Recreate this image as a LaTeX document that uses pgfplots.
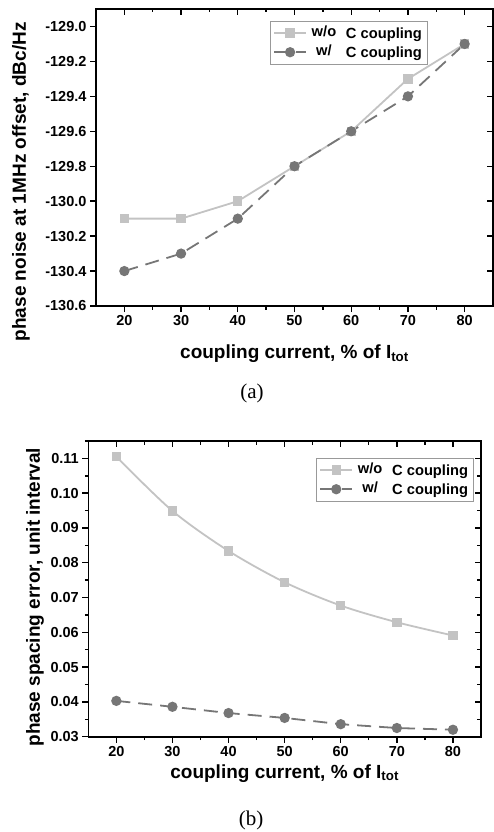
\documentclass[border=0pt]{standalone}
\usepackage{pgfplots}
\pgfplotsset{compat=1.18}
\usepackage{fontspec}
\setmainfont{Liberation Sans}
\newfontfamily\captfont{Liberation Serif}

\definecolor{lightg}{RGB}{195,195,195}
\definecolor{darkg}{RGB}{118,118,118}

\pgfplotsset{
  base/.style={
    scale only axis,
    xmin=15, xmax=85,
    xtick={20,30,...,80},
    minor x tick num=1,
    minor y tick num=1,
    axis line style={line width=1.6pt},
    every tick/.style={line width=1.4pt, black},
    major tick length=6pt,
    minor tick length=3.5pt,
    tick label style={font=\bfseries\fontsize{14.5}{16}\selectfont},
    /pgf/number format/assume math mode=true,
  },
  inner ticks/.style={
    base,
    axis x line*=top,
    axis y line*=right,
    tick align=inside,
    xticklabels={}, yticklabels={},
  },
  wo/.style={color=lightg, line width=1.8pt, mark=square*, mark size=3.8pt,
    mark options={solid, fill=lightg}},
  wc/.style={color=darkg, line width=1.8pt, dash pattern=on 14pt off 8pt,
    mark=*, mark size=4.2pt, mark options={solid, fill=darkg}},
  leg/.style={
    legend cell align=left,
    legend style={draw=gray!80, line width=0.6pt, inner sep=3pt,
      font=\bfseries\fontsize{14.7}{17}\selectfont, row sep=1pt},
    legend image code/.code={
      \draw[mark repeat=2, mark phase=2, ##1]
        plot coordinates {(0pt,0pt) (16pt,0pt) (32pt,0pt)};},
  },
}
\newcommand{\wo}{\makebox[30pt][c]{\raisebox{2pt}{w/o}}\hspace{7pt}C coupling}
\newcommand{\wc}{\makebox[30pt][c]{\raisebox{2pt}{w/}}\hspace{7pt}C coupling}

\begin{document}
\begin{tikzpicture}
\path[use as bounding box] (0pt,0pt) rectangle (493pt,-832pt);

% (a) phase noise
\begin{axis}[
  base, leg,
  at={(96pt,-306pt)}, anchor=south west,
  width=397pt, height=297pt,
  ymin=-130.6, ymax=-128.9,
  ytick={-130.6,-130.4,...,-128.9},
  tick align=outside,
  xtick pos=bottom, ytick pos=left,
  yticklabel style={/pgf/number format/.cd, fixed, fixed zerofill, precision=1},
  xlabel={coupling current, \% of I\textsubscript{tot}},
  ylabel={phase noise at 1MHz offset, dBc/Hz},
  xlabel style={at={(axis description cs:0.5,-0.178)}, anchor=base,
    font=\bfseries\fontsize{19}{22}\selectfont},
  ylabel style={at={(axis description cs:-0.189,0.418)}, anchor=center,
    font=\bfseries\fontsize{19}{22}\selectfont},
  legend style={at={(axis description cs:0.438,0.9606)}, anchor=north west},
]
\addplot[wo] coordinates {(20,-130.1) (30,-130.1) (40,-130.0) (50,-129.8) (60,-129.6) (70,-129.3) (80,-129.1)};
\addlegendentry{\wo}
\addplot[wc] coordinates {(20,-130.4) (30,-130.3) (40,-130.1) (50,-129.8) (60,-129.6) (70,-129.4) (80,-129.1)};
\addlegendentry{\wc}
\end{axis}
\begin{axis}[
  inner ticks,
  at={(96pt,-306pt)}, anchor=south west,
  width=397pt, height=297pt,
  ymin=-130.6, ymax=-128.9,
  ytick={-130.6,-130.4,...,-128.9},
]
\end{axis}
\node[font=\captfont\fontsize{21}{24}\selectfont] at (252pt,-393pt) {(a)};

% (b) phase spacing error
\begin{axis}[
  base, leg,
  at={(88.3pt,-736.7pt)}, anchor=south west,
  width=392.7pt, height=295.7pt,
  ymin=0.03, ymax=0.115,
  ytick={0.03,0.04,...,0.115},
  tick align=outside,
  xtick pos=bottom, ytick pos=left,
  yticklabel style={/pgf/number format/.cd, fixed, fixed zerofill, precision=2},
  xlabel={coupling current, \% of I\textsubscript{tot}},
  ylabel={phase spacing error, unit interval},
  xlabel style={at={(axis description cs:0.5,-0.14)}, anchor=base,
    font=\bfseries\fontsize{19}{22}\selectfont},
  ylabel style={at={(axis description cs:-0.136,0.472)}, anchor=center,
    font=\bfseries\fontsize{19}{22}\selectfont},
  legend style={at={(axis description cs:0.58,0.9435)}, anchor=north west},
]
\addplot[wo, smooth] coordinates {(20,0.1105) (30,0.0949) (40,0.0834) (50,0.0744) (60,0.0677) (70,0.0629) (80,0.0591)};
\addlegendentry{\wo}
\addplot[wc] coordinates {(20,0.0403) (30,0.0386) (40,0.0368) (50,0.0354) (60,0.0336) (70,0.0325) (80,0.0320)};
\addlegendentry{\wc}
\end{axis}
\begin{axis}[
  inner ticks,
  at={(88.3pt,-736.7pt)}, anchor=south west,
  width=392.7pt, height=295.7pt,
  ymin=0.03, ymax=0.115,
  ytick={0.03,0.04,...,0.115},
]
\end{axis}
\node[font=\captfont\fontsize{21}{24}\selectfont] at (251pt,-820pt) {(b)};
\end{tikzpicture}
\end{document}
